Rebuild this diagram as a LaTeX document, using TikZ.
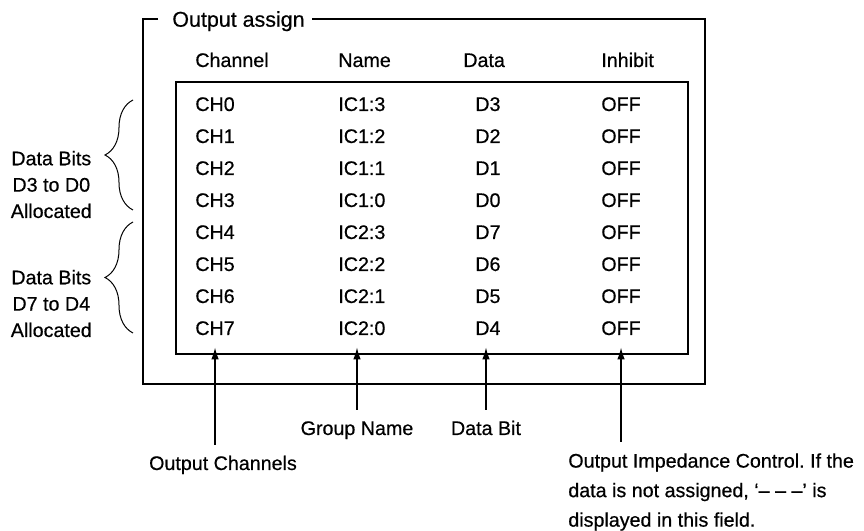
\documentclass[tikz,border=0pt]{standalone}
\usepackage{fontspec}
\setmainfont{Liberation Sans}[FakeBold=0.5]
\frenchspacing
\usepackage{tikz}
\usetikzlibrary{calc,positioning}
\usetikzlibrary{arrows.meta,decorations.pathreplacing}

\begin{document}
\begin{tikzpicture}[
		txt/.style={font=\fontsize{11.2}{15}\selectfont, text height=2.8mm, text depth=0pt},
		cell/.style={txt, anchor=west, inner xsep=0pt, inner ysep=2.4mm},
		lbl/.style={txt, inner xsep=0.6mm, inner ysep=2.2mm},
		frame/.style={line width=0.4mm},
		inbox/.style={line width=0.25mm},
		arr/.style={-{Latex[length=2.4mm,width=1.5mm]}, line width=0.3mm},
		brc/.style={line width=0.2mm, decorate, decoration={brace,amplitude=5.6mm}}
	]
				 %\draw[color=gray,step=1mm, help lines,opacity=0.3] (0mm,0mm) grid (172.8mm,106.2mm); %help grids
				 \useasboundingbox (0mm,0mm) rectangle (172.8mm,106.2mm);
				 % frame and title
				 \node[txt, font=\fontsize{12.2}{15}\selectfont, text height=3.1mm, anchor=west, inner sep=0pt] (ttl) at (34.4mm,102.4mm) {Output assign};
				 \draw[frame] ([xshift=-2.8mm]ttl.west) -- (28.6mm,102.4mm) |- (141mm,29.4mm) |- ([xshift=1.4mm]ttl.east);
				 \draw[inbox] (35.2mm,35.4mm) rectangle (137.6mm,89.8mm);
				 % heads
				 \node[cell] (hch) at (39mm,94.2mm) {Channel};
				 \node[cell] (hname) at (67.6mm,94.2mm) {Name};
				 \node[cell] (hdata) at (92.6mm,94.2mm) {Data};
				 \node[cell] (hinh) at (120.2mm,94.2mm) {Inhibit};
				 % rows
				 \node[cell] (ch0) at (39mm,85.4mm) {CH0};
				 \node[cell] (ic0) at (67.6mm,85.4mm) {IC1:3};
				 \node[cell] (dd0) at (95mm,85.4mm) {D3};
				 \node[cell] (off0) at (120.2mm,85.4mm) {OFF};
				 %
				 \node[cell] (ch1) at (39mm,79mm) {CH1};
				 \node[cell] (ic1) at (67.6mm,79mm) {IC1:2};
				 \node[cell] (dd1) at (95mm,79mm) {D2};
				 \node[cell] (off1) at (120.2mm,79mm) {OFF};
				 %
				 \node[cell] (ch2) at (39mm,72.6mm) {CH2};
				 \node[cell] (ic2) at (67.6mm,72.6mm) {IC1:1};
				 \node[cell] (dd2) at (95mm,72.6mm) {D1};
				 \node[cell] (off2) at (120.2mm,72.6mm) {OFF};
				 %
				 \node[cell] (ch3) at (39mm,66.2mm) {CH3};
				 \node[cell] (ic3) at (67.6mm,66.2mm) {IC1:0};
				 \node[cell] (dd3) at (95mm,66.2mm) {D0};
				 \node[cell] (off3) at (120.2mm,66.2mm) {OFF};
				 %
				 \node[cell] (ch4) at (39mm,59.8mm) {CH4};
				 \node[cell] (ic4) at (67.6mm,59.8mm) {IC2:3};
				 \node[cell] (dd4) at (95mm,59.8mm) {D7};
				 \node[cell] (off4) at (120.2mm,59.8mm) {OFF};
				 %
				 \node[cell] (ch5) at (39mm,53.4mm) {CH5};
				 \node[cell] (ic5) at (67.6mm,53.4mm) {IC2:2};
				 \node[cell] (dd5) at (95mm,53.4mm) {D6};
				 \node[cell] (off5) at (120.2mm,53.4mm) {OFF};
				 %
				 \node[cell] (ch6) at (39mm,47mm) {CH6};
				 \node[cell] (ic6) at (67.6mm,47mm) {IC2:1};
				 \node[cell] (dd6) at (95mm,47mm) {D5};
				 \node[cell] (off6) at (120.2mm,47mm) {OFF};
				 %
				 \node[cell] (ch7) at (39mm,40.6mm) {CH7};
				 \node[cell] (ic7) at (67.6mm,40.6mm) {IC2:0};
				 \node[cell] (dd7) at (95mm,40.6mm) {D4};
				 \node[cell] (off7) at (120.2mm,40.6mm) {OFF};
				 % braces
				 \draw[brc] (26.6mm,64.2mm) -- (26.6mm,86.2mm);
				 \draw[brc] (26.6mm,39.6mm) -- (26.6mm,61.8mm);
				 \node[txt, align=center, anchor=east, text height=, font=\fontsize{11.2}{15}\selectfont] (bits1) at (19.6mm,69.3mm) {Data Bits\\D3 to D0\\Allocated};
				 \node[txt, align=center, anchor=east, text height=, font=\fontsize{11.2}{15}\selectfont] (bits2) at (19.6mm,45.5mm) {Data Bits\\D7 to D4\\Allocated};
				 % Drawing the labels
				 \node[lbl] (outch) at (44.6mm,13.6mm) {Output Channels};
				 \node[lbl] (grp) at (71.4mm,20.6mm) {Group Name};
				 \node[lbl] (dbit) at (97.2mm,20.6mm) {Data Bit};
				 \node[lbl, anchor=north west, align=left, text height=, font=\fontsize{11.2}{16.8}\selectfont] (imp) at (113mm,17.8mm) {Output Impedance Control. If the\\data is not assigned, `-- -- --' is\\displayed in this field.};
				 % arrows...
				 \draw[arr] (outch.north -| ch7.south) -- (ch7.south);
				 \draw[arr] (grp.north) -- (grp.north |- ic7.south);
				 \draw[arr] (dbit.north) -- (dbit.north |- dd7.south);
				 \draw[arr] (imp.north -| off7.south) -- (off7.south);
\end{tikzpicture}
\end{document}
